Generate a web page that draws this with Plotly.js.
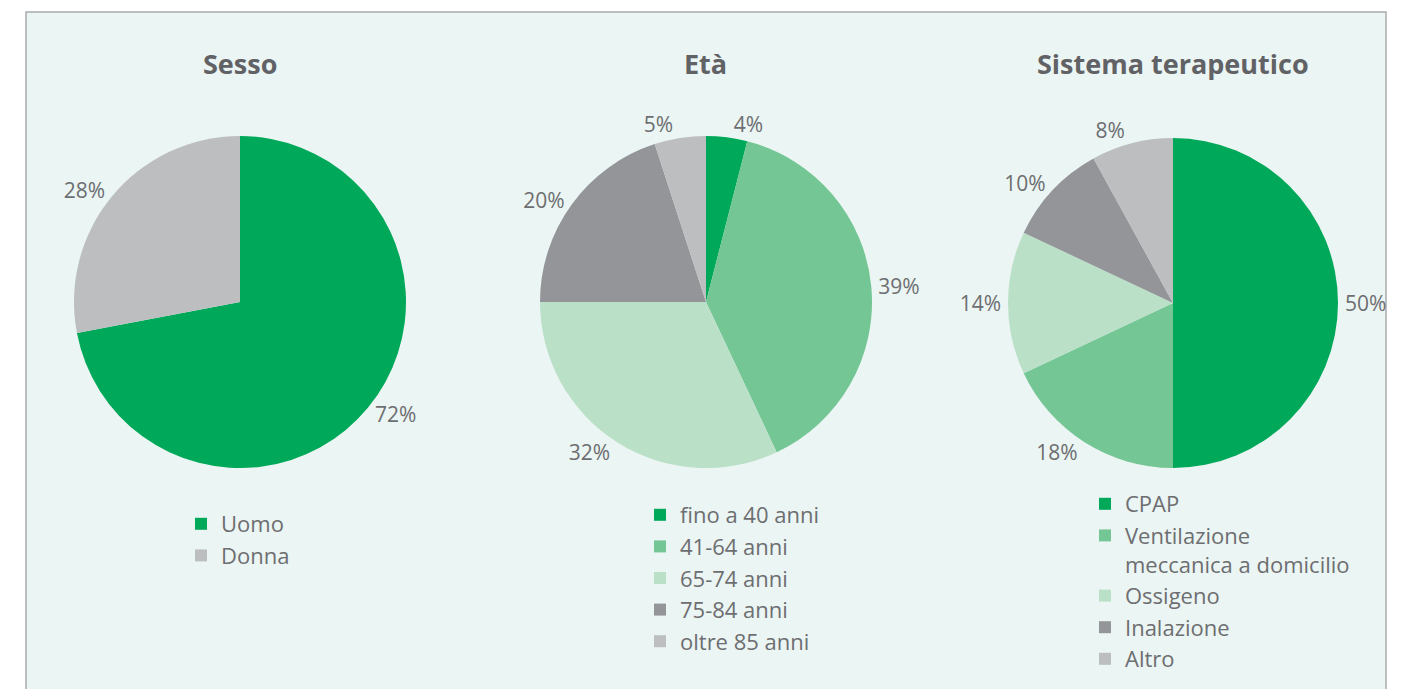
<!DOCTYPE html>
<html>
<head>
<meta charset="utf-8">
<script src="https://cdn.plot.ly/plotly-3.0.1.min.js"></script>
<style>
html,body{margin:0;padding:0;background:#ffffff;}
#chart{width:1401px;height:689px;}
</style>
</head>
<body>
<div id="chart"></div>
<script>
// ---- Data ----
const titles = ["Sesso", "Età", "Sistema terapeutico"];

const sessoLabels = ["Uomo", "Donna"];
const sessoValues = [72, 28];

const etaLabels = ["fino a 40 anni", "41-64 anni", "65-74 anni", "75-84 anni", "oltre 85 anni"];
const etaValues = [4, 39, 32, 20, 5];

const sistemaLabels = ["CPAP", "Ventilazione<br>meccanica a domicilio", "Ossigeno", "Inalazione", "Altro"];
const sistemaValues = [50, 18, 14, 10, 8];

// ---- Styles ----
const W = 1401, H = 689;
const cGreen = "#00A859", cMid = "#74C695", cLight = "#BBE0C8", cDark = "#939598", cGrey = "#BCBEC0";
const textColor = "#6D6E71";
const fontFam = "Open Sans, DejaVu Sans, sans-serif";

function dom(cx, cy, r) {
  return {x: [(cx - r) / W, (cx + r) / W], y: [1 - (cy + r) / H, 1 - (cy - r) / H]};
}

function pieTrace(labels, values, colors, domain, legendId) {
  return {
    type: "pie",
    labels: labels,
    values: values,
    sort: false,
    direction: "clockwise",
    rotation: 0,
    marker: {colors: colors, line: {width: 0}},
    textinfo: "percent",
    texttemplate: "%{value}%",
    textposition: "outside",
    outsidetextfont: {family: fontFam, size: 21, color: textColor},
    domain: domain,
    legend: legendId,
    hoverinfo: "label+percent",
    showlegend: true
  };
}

const data = [
  pieTrace(sessoLabels, sessoValues, [cGreen, cGrey], dom(240, 302, 166), "legend"),
  pieTrace(etaLabels, etaValues, [cGreen, cMid, cLight, cDark, cGrey], dom(706, 302, 166), "legend2"),
  pieTrace(sistemaLabels, sistemaValues, [cGreen, cMid, cLight, cDark, cGrey], dom(1173, 303, 165), "legend3")
];

function legendAt(px, py) {
  return {
    x: px / W, y: 1 - py / H, xanchor: "left", yanchor: "top",
    bgcolor: "rgba(0,0,0,0)", borderwidth: 0,
    font: {family: fontFam, size: 22, color: textColor},
    traceorder: "normal", valign: "top", itemclick: false
  };
}

const titleX = [240, 706, 1173];
const annotations = titles.map((t, i) => ({
  text: "<b>" + t + "</b>", x: titleX[i] / W, y: 1 - 63 / H,
  xref: "paper", yref: "paper", xanchor: "center", yanchor: "middle",
  showarrow: false, font: {family: fontFam, size: 27, color: "#616265"}
}));

const layout = {
  width: W, height: H,
  margin: {l: 0, r: 0, t: 0, b: 0},
  paper_bgcolor: "#ffffff",
  plot_bgcolor: "#ffffff",
  showlegend: true,
  legend: legendAt(181, 503),
  legend2: legendAt(640, 494),
  legend3: legendAt(1085, 483),
  annotations: annotations,
  shapes: [{
    type: "rect", xref: "paper", yref: "paper",
    x0: 26 / W, x1: 1386 / W, y0: -0.05, y1: 1 - 12 / H,
    fillcolor: "#EBF5F3", line: {color: "#A9ABAC", width: 1.5}, layer: "below"
  }]
};

Plotly.newPlot("chart", data, layout, {displayModeBar: false, staticPlot: true});
</script>
</body>
</html>
